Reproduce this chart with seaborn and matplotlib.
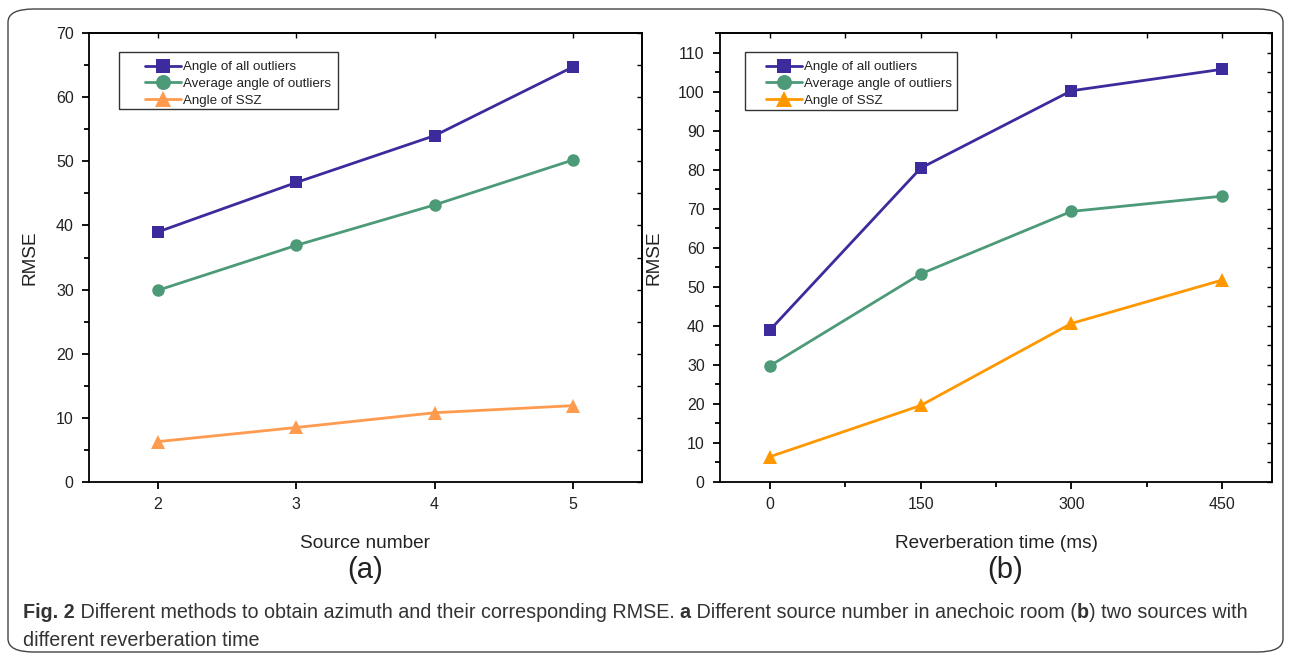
import matplotlib
matplotlib.use("Agg")
import matplotlib.pyplot as plt
import seaborn as sns
import pandas as pd
import numpy as np
from matplotlib.patches import FancyBboxPatch, Rectangle
from matplotlib.ticker import MultipleLocator, FixedLocator

# ---------------- data ----------------
source_number = [2, 3, 4, 5]
a_all_outliers = [39.0, 46.7, 54.0, 64.7]
a_avg_outliers = [29.9, 36.9, 43.2, 50.2]
a_ssz = [6.3, 8.5, 10.8, 11.9]

reverb_time = [0, 150, 300, 450]
b_all_outliers = [39.0, 80.4, 100.2, 105.7]
b_avg_outliers = [29.8, 53.3, 69.3, 73.2]
b_ssz = [6.5, 19.6, 40.6, 51.7]

series_names = ["Angle of all outliers", "Average angle of outliers", "Angle of SSZ"]

sns.set_style("ticks")
plt.rcParams["font.family"] = ["Liberation Sans", "DejaVu Sans"]

W, H = 1291, 658
fig = plt.figure(figsize=(W / 100, H / 100), dpi=100)

def fx(px):
    return px / W

def fy(py):
    return (H - py) / H

ax_a = fig.add_axes([fx(89), fy(482), (642 - 89) / W, (482 - 33) / H])
ax_b = fig.add_axes([fx(720), fy(482), (1272 - 720) / W, (482 - 33) / H])

colors_a = ["#3C2B9C", "#4C9A77", "#FF9B4E"]
colors_b = ["#3C2B9C", "#4C9A77", "#FF9800"]
markers = ["s", "o", "^"]
msizes = [8, 9, 10]

def draw(ax, xs, ys_list, colors):
    for name, ys, c, m, ms in zip(series_names, ys_list, colors, markers, msizes):
        df = pd.DataFrame({"x": xs, "y": ys})
        sns.lineplot(data=df, x="x", y="y", ax=ax, color=c, marker=m,
                     markersize=ms, markeredgewidth=0, linewidth=2.0,
                     label=name)

draw(ax_a, source_number, [a_all_outliers, a_avg_outliers, a_ssz], colors_a)
draw(ax_b, reverb_time, [b_all_outliers, b_avg_outliers, b_ssz], colors_b)

ax_a.set_xlim(1.5, 5.5)
ax_a.set_ylim(0, 70)
ax_a.xaxis.set_major_locator(FixedLocator(source_number))
ax_a.yaxis.set_major_locator(MultipleLocator(10))
ax_a.yaxis.set_minor_locator(MultipleLocator(5))

ax_b.set_xlim(-50, 500)
ax_b.set_ylim(0, 115)
ax_b.xaxis.set_major_locator(FixedLocator(reverb_time))
ax_b.xaxis.set_minor_locator(FixedLocator([75, 225, 375]))
ax_b.yaxis.set_major_locator(MultipleLocator(10))
ax_b.yaxis.set_minor_locator(MultipleLocator(5))

for ax, xlabel in [(ax_a, "Source number"), (ax_b, "Reverberation time (ms)")]:
    for s in ax.spines.values():
        s.set_visible(True)
        s.set_linewidth(1.3)
        s.set_color("black")
    ax.tick_params(axis="both", which="major", direction="out", length=5,
                   width=1.3, labelsize=11.5, color="black", labelcolor="#222222", pad=6)
    ax.tick_params(axis="both", which="minor", direction="out", length=3.5,
                   width=1.3, color="black")
    ax.set_xlabel(xlabel, fontsize=13.7, color="#222222")
    ax.set_ylabel("RMSE", fontsize=13.7, color="#222222")
    ax.xaxis.set_label_coords(0.5, -0.118)
    sec_y = ax.secondary_yaxis("right")
    sec_y.yaxis.set_major_locator(ax.yaxis.get_major_locator())
    sec_y.yaxis.set_minor_locator(ax.yaxis.get_minor_locator())
    sec_y.tick_params(which="both", direction="in", labelright=False, width=1.0,
                      length=3.5, color="black")
    sec_y.spines["right"].set_linewidth(1.3)
    sec_x = ax.secondary_xaxis("top")
    sec_x.xaxis.set_major_locator(ax.xaxis.get_major_locator())
    if ax is ax_b:
        sec_x.xaxis.set_minor_locator(FixedLocator([75, 225, 375]))
    sec_x.tick_params(which="both", direction="in", labeltop=False, length=3.5,
                      width=1.0, color="black")
    sec_x.spines["top"].set_linewidth(1.3)

ax_a.yaxis.set_label_coords((38 - 89) / 553, 0.5)
ax_b.yaxis.set_label_coords((662 - 720) / 552, 0.5)

# legends: frameless legend + separately drawn box (pixel positions from reference)
legend_boxes = {ax_a: (119, 52, 338, 109, 145), ax_b: (745, 52, 957, 110, 766)}
for ax, (bx0, by0, bx1, by1, hx) in legend_boxes.items():
    rect = Rectangle((fx(bx0), fy(by1)), fx(bx1) - fx(bx0), fy(by0) - fy(by1),
                     transform=fig.transFigure, facecolor="white",
                     edgecolor="#333333", linewidth=1.0, zorder=4, clip_on=False)
    ax.add_patch(rect)
    leg = ax.legend(loc="upper left", bbox_to_anchor=(fx(hx), fy(by0 + 9)),
                    bbox_transform=fig.transFigure,
                    borderaxespad=0, borderpad=0, fontsize=9.6, frameon=False,
                    handlelength=2.7, handletextpad=0.15, labelspacing=0.32,
                    markerscale=1.2)
    leg.set_zorder(6)
    for t in leg.get_texts():
        t.set_color("#222222")

fig.text(fx(365), fy(570), "(a)", fontsize=21, ha="center", va="center", color="#222222")
fig.text(fx(1005), fy(570), "(b)", fontsize=21, ha="center", va="center", color="#222222")

# outer rounded frame
frame = FancyBboxPatch((fx(8), fy(652)), fx(1283) - fx(8), fy(9) - fy(652),
                       boxstyle="round,pad=0,rounding_size=0.02",
                       transform=fig.transFigure, facecolor="none",
                       edgecolor="#444444", linewidth=1.0, zorder=0)
fig.patches.append(frame)

# caption with mixed bold pieces, auto-fitted to reference width
cap_family = ["Liberation Sans", "DejaVu Sans"]
cap_color = "#333333"
line1 = [("Fig. 2", True), (" Different methods to obtain azimuth and their corresponding RMSE. ", False),
         ("a", True), (" Different source number in anechoic room (", False), ("b", True),
         (") two sources with", False)]
line2 = [("different reverberation time", False)]

fig.canvas.draw()
renderer = fig.canvas.get_renderer()

def measure(pieces, size):
    total = 0
    for txt, bold in pieces:
        t = fig.text(0, 0, txt, fontsize=size, family=cap_family,
                     fontweight="bold" if bold else "normal")
        total += t.get_window_extent(renderer=renderer).width
        t.remove()
    return total

target = 1240 - 23
base = 13.0
cap_size = base * target / measure(line1, base)

def rich_line(pieces, x0, y0):
    x = x0
    for txt, bold in pieces:
        t = fig.text(x, y0, txt, fontsize=cap_size, family=cap_family,
                     fontweight="bold" if bold else "normal", color=cap_color,
                     ha="left", va="center")
        bb = t.get_window_extent(renderer=renderer)
        x += bb.width / W

rich_line(line1, fx(23), fy(612))
rich_line(line2, fx(23), fy(640))

fig.savefig("out.png", dpi=100)
